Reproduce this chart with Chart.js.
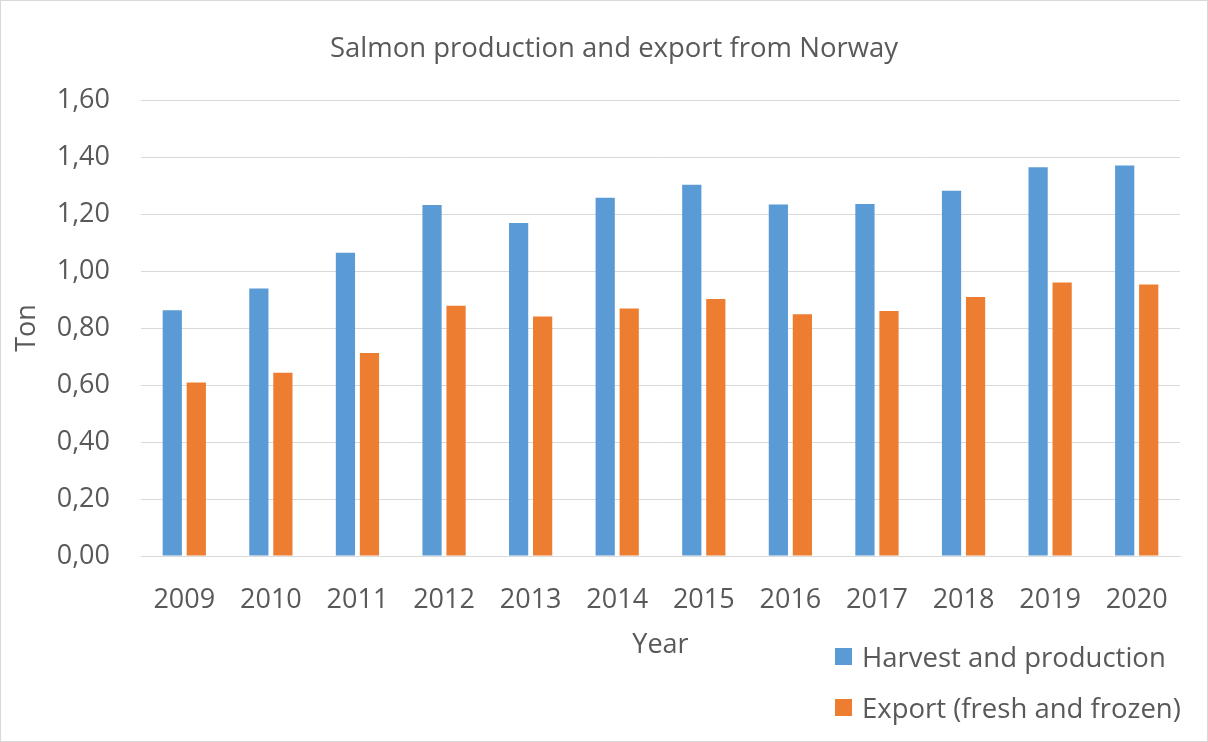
<!DOCTYPE html>
<html lang="en">
<head>
    <meta charset="UTF-8">
    <title>Salmon production and export from Norway</title>
    <script src="https://cdn.jsdelivr.net/npm/chart.js"></script>
    <style>
        body {
            margin: 0;
            background: #fff;
        }

        .chart-box {
            position: relative;
            width: 1208px;
            height: 742px;
        }

        .frame {
            position: absolute;
            left: 0;
            top: 0;
            width: 1208px;
            height: 742px;
            box-sizing: border-box;
            border: 1px solid #d9d9d9;
            pointer-events: none;
        }

        .chart-title {
            position: absolute;
            left: 314px;
            width: 600px;
            top: 28px;
            text-align: center;
            font-family: "Open Sans", sans-serif;
            font-size: 27.5px;
            line-height: 38px;
            color: #595959;
        }

        .legend {
            position: absolute;
            left: 835px;
            top: 631px;
            font-family: "Open Sans", sans-serif;
            font-size: 27.5px;
            color: #595959;
        }

        .legend div {
            height: 51px;
            display: flex;
            align-items: center;
        }

        .legend span {
            display: inline-block;
            width: 17px;
            height: 17px;
            margin-right: 10px;
        }
    </style>
</head>
<body>
    <div class="chart-box">
        <canvas id="salmonChart" width="1208" height="742"></canvas>
        <div class="chart-title">Salmon production and export from Norway</div>
        <div class="legend" id="legend"></div>
        <div class="frame"></div>
    </div>

    <script>
        const years = ['2009', '2010', '2011', '2012', '2013', '2014', '2015', '2016', '2017', '2018', '2019', '2020'];
        const harvest = [0.862, 0.939, 1.064, 1.232, 1.168, 1.257, 1.303, 1.233, 1.235, 1.282, 1.364, 1.370];
        const exportFreshFrozen = [0.609, 0.643, 0.712, 0.878, 0.840, 0.868, 0.902, 0.848, 0.860, 0.909, 0.960, 0.953];
        const seriesNames = ['Harvest and production', 'Export (fresh and frozen)'];
        const seriesColors = ['#5b9bd5', '#ed7d31'];

        const textColor = '#595959';
        const font = 'Open Sans';

        // legend sits in the bottom right corner, two rows, next to the "Year" title
        document.getElementById('legend').innerHTML = seriesNames.map((name, i) =>
            '<div><span style="background:' + seriesColors[i] + '"></span>' + name + '</div>'
        ).join('');

        Chart.defaults.font.family = font;
        Chart.defaults.color = textColor;

        new Chart(document.getElementById('salmonChart'), {
            type: 'bar',
            data: {
                labels: years,
                datasets: [{
                    label: seriesNames[0],
                    data: harvest,
                    backgroundColor: seriesColors[0]
                }, {
                    label: seriesNames[1],
                    data: exportFreshFrozen,
                    backgroundColor: seriesColors[1]
                }]
            },
            options: {
                responsive: false,
                animation: false,
                categoryPercentage: 0.555,
                barPercentage: 0.8,
                layout: {
                    // top space is left for the html title
                    padding: { left: 0, right: 28, top: 100, bottom: 0 }
                },
                plugins: {
                    legend: { display: false },
                    tooltip: { enabled: false },
                    title: { display: false }
                },
                scales: {
                    x: {
                        grid: { display: false },
                        border: { color: '#d9d9d9', width: 1 },
                        ticks: {
                            color: textColor,
                            font: { size: 27 },
                            padding: 20
                        },
                        title: {
                            display: true,
                            text: 'Year',
                            color: textColor,
                            font: { size: 27 },
                            padding: { top: 0, bottom: 80 }
                        },
                        afterFit(scale) {
                            scale.height = 186;
                        }
                    },
                    y: {
                        min: 0,
                        max: 1.6,
                        grid: {
                            color: '#d9d9d9',
                            drawTicks: false
                        },
                        border: { display: false },
                        ticks: {
                            stepSize: 0.2,
                            color: textColor,
                            font: { size: 27 },
                            padding: 31,
                            callback: v => v.toFixed(2).replace('.', ',')
                        },
                        title: {
                            display: true,
                            text: 'Ton',
                            color: textColor,
                            font: { size: 27 },
                            padding: { top: 11, bottom: 0 }
                        },
                        afterFit(scale) {
                            scale.width = 141;
                        }
                    }
                }
            }
        });
    </script>
</body>
</html>
